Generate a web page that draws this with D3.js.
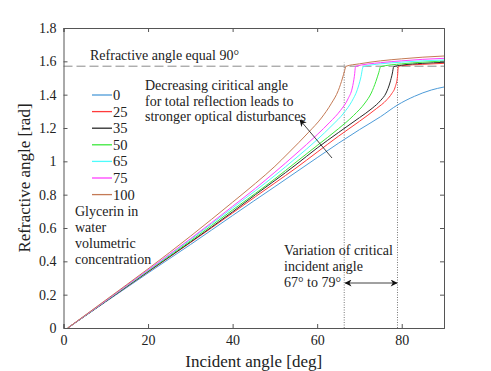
<!doctype html>
<html lang="en">
  <head>
    <meta charset="utf-8">
    <title>Refractive angle vs incident angle</title>
    <script src="https://d3js.org/d3.v7.min.js"></script>
    <style>
      body { margin: 0; background: #fff; }
      svg text { font-family: 'Liberation Serif', 'Times New Roman', Times, 'DejaVu Serif', serif; fill: #222; }
    </style>
  </head>
  <body>
    <div class="visual"></div>
  <script>
    // glycerin concentration (legend) and curve colours
    const concentrations = ['0', '25', '35', '50', '65', '75', '100'];
    const colors = ['#4d9bd8', '#ff3b3b', '#2a2a2a', '#3de83d', '#4dfcfc', '#ff40ff', '#c47a55'];

    // [incident angle (deg), refractive angle (rad)]
    const c0 = [[1,0],[10,0.157],[20,0.33],[30,0.5],[40,0.675],[45,0.762],[50,0.848],[55,0.935],[60,1.022],
      [65,1.108],[70,1.19],[75,1.268],[79,1.338],[83,1.39],[87,1.428],[90,1.446]];
    const c25 = [[1,0],[10,0.16],[20,0.337],[30,0.512],[40,0.69],[45.4,0.788],[50,0.87],[55,0.96],[60,1.055],
      [65,1.15],[70,1.24],[72,1.277],[74,1.316],[76.5,1.37],[77.6,1.405],[78.5,1.45],[79,1.51],[79.2,1.568],
      [80,1.574],[85,1.582],[90,1.588]];
    const c35 = [[1,0],[10,0.16],[20,0.338],[30,0.515],[40,0.697],[45.4,0.8],[50,0.885],[55,0.98],[60,1.08],
      [65,1.172],[70,1.262],[73,1.318],[75,1.365],[76.3,1.41],[77.2,1.47],[77.8,1.53],[78.1,1.568],
      [80,1.577],[85,1.588],[90,1.594]];
    const c50 = [[1,0],[10,0.162],[20,0.342],[30,0.522],[40,0.708],[45.4,0.808],[50,0.895],[55,0.995],[60,1.095],
      [65,1.195],[68.6,1.275],[71.3,1.35],[72.8,1.41],[73.9,1.48],[74.6,1.535],[75,1.568],
      [80,1.585],[85,1.595],[90,1.602]];
    const c65 = [[1,0],[10,0.163],[20,0.345],[30,0.53],[40,0.72],[45.4,0.824],[50,0.915],[55,1.02],[60,1.13],
      [63.5,1.215],[66.3,1.29],[68.2,1.36],[69.5,1.43],[70.3,1.5],[70.9,1.568],
      [75,1.585],[80,1.595],[85,1.603],[90,1.608]];
    const c75 = [[1,0],[10,0.164],[20,0.348],[30,0.535],[40,0.73],[45.4,0.838],[50,0.935],[55,1.045],[60,1.16],
      [63,1.235],[65.5,1.305],[67.3,1.375],[68.3,1.44],[68.8,1.51],[69.1,1.57],
      [75,1.592],[80,1.603],[85,1.612],[90,1.618]];
    const c100 = [[1,0],[10,0.168],[20,0.355],[30,0.55],[40,0.755],[45.4,0.868],[50,0.97],[53.2,1.05],[58,1.175],
      [61,1.26],[63.3,1.345],[65,1.425],[66,1.5],[66.5,1.545],[66.8,1.57],
      [70,1.585],[75,1.603],[80,1.615],[85,1.625],[90,1.632]];
    const curves = [c0, c25, c35, c50, c65, c75, c100];

    const xTicks = [0, 20, 40, 60, 80];
    const yTicks = [0, 0.2, 0.4, 0.6, 0.8, 1, 1.2, 1.4, 1.6, 1.8];
    const criticalAngles = [66.4, 79];
    const rightAngle = Math.PI / 2;

    const w = 491, h = 371;
    const margin = { top: 28, right: 47, bottom: 43, left: 63.5 };
    const serif = "'Liberation Serif', 'Times New Roman', Times, 'DejaVu Serif', serif";

    const svg = d3.select('.visual')
      .append('svg')
      .attr('width', w)
      .attr('height', h)
      .attr('font-family', serif);

    const x = d3.scaleLinear().domain([0, 90]).range([margin.left, w - margin.right]);
    const y = d3.scaleLinear().domain([0, 1.8]).range([h - margin.bottom, margin.top]);

    // dashed line for 90 deg
    svg.append('line')
      .attr('x1', x(0)).attr('x2', x(90))
      .attr('y1', y(rightAngle)).attr('y2', y(rightAngle))
      .attr('stroke', '#8a8a8a')
      .attr('stroke-width', 1)
      .attr('stroke-dasharray', '9,4');

    // dotted verticals at the critical angles
    svg.selectAll('.crit')
      .data(criticalAngles)
      .enter().append('line')
      .attr('class', 'crit')
      .attr('x1', d => x(d)).attr('x2', d => x(d))
      .attr('y1', y(0)).attr('y2', y(1.592))
      .attr('stroke', '#555')
      .attr('stroke-width', 0.8)
      .attr('stroke-dasharray', '1,1.5');

    const line = d3.line()
      .x(d => x(d[0]))
      .y(d => y(d[1]))
      .curve(d3.curveMonotoneX);

    svg.selectAll('.curve')
      .data(curves)
      .enter().append('path')
      .attr('class', 'curve')
      .attr('d', line)
      .attr('fill', 'none')
      .attr('stroke', (d, i) => colors[i])
      .attr('stroke-width', 1);

    // axes (ticks pointing inward, box all around)
    const axisColor = '#555';
    const gx = svg.append('g')
      .attr('transform', 'translate(0,' + y(0) + ')')
      .call(d3.axisBottom(x).tickValues(xTicks).tickSize(-4).tickPadding(7));
    const gxTop = svg.append('g')
      .attr('transform', 'translate(0,' + y(1.8) + ')')
      .call(d3.axisTop(x).tickValues(xTicks).tickSize(-4).tickFormat(''));
    const gy = svg.append('g')
      .attr('transform', 'translate(' + x(0) + ',0)')
      .call(d3.axisLeft(y).tickValues(yTicks).tickSize(-4).tickPadding(7).tickFormat(d3.format('')));
    const gyRight = svg.append('g')
      .attr('transform', 'translate(' + x(90) + ',0)')
      .call(d3.axisRight(y).tickValues(yTicks).tickSize(-4).tickFormat(''));

    [gx, gxTop, gy, gyRight].forEach(g => {
      g.attr('font-family', serif);
      g.select('.domain').attr('stroke', axisColor);
      g.selectAll('.tick line').attr('stroke', axisColor);
      g.selectAll('.tick text')
        .attr('font-size', '14px')
        .attr('fill', '#222');
    });

    // axis titles
    svg.append('text')
      .attr('x', (x(0) + x(90)) / 2)
      .attr('y', 367)
      .attr('text-anchor', 'middle')
      .attr('font-size', '17px')
      .text('Incident angle [deg]');
    svg.append('text')
      .attr('transform', 'translate(30,' + y(0.9) + ') rotate(-90)')
      .attr('text-anchor', 'middle')
      .attr('font-size', '17px')
      .text('Refractive angle [rad]');

    svg.append('text')
      .attr('x', 90)
      .attr('y', 60)
      .attr('font-size', '14px')
      .text('Refractive angle equal 90°');

    // legend
    const legend = svg.append('g').attr('class', 'legend');
    const rows = legend.selectAll('g')
      .data(concentrations)
      .enter().append('g')
      .attr('transform', (d, i) => 'translate(92,' + (95 + i * 16.6) + ')');
    rows.append('line')
      .attr('x1', 0).attr('x2', 20)
      .attr('stroke', (d, i) => colors[i])
      .attr('stroke-width', 1.3);
    rows.append('text')
      .attr('x', 21)
      .attr('y', 5)
      .attr('font-size', '14.5px')
      .text(d => d);

    const addLines = (lines, x0, y0, dy) => {
      const t = svg.append('text').attr('font-size', '14px');
      lines.forEach((s, i) => {
        t.append('tspan').attr('x', x0).attr('y', y0 + i * dy).text(s);
      });
    };
    addLines(['Glycerin in', 'water', 'volumetric', 'concentration'], 75, 216, 16);
    addLines(['Decreasing ciritical angle', 'for total reflection leads to', 'stronger optical disturbances'], 145, 90, 15.6);
    addLines(['Variation of critical', 'incident angle', '67° to 79°'], 284, 255, 16);

    // arrows
    const defs = svg.append('defs');
    defs.append('marker')
      .attr('id', 'head')
      .attr('viewBox', '0 0 10 10')
      .attr('refX', 9).attr('refY', 5)
      .attr('markerWidth', 9).attr('markerHeight', 7)
      .attr('markerUnits', 'userSpaceOnUse')
      .attr('orient', 'auto-start-reverse')
      .append('path')
      .attr('d', 'M0,0 L10,5 L0,10 L3,5 Z')
      .attr('fill', '#111');

    svg.append('line')
      .attr('x1', 332).attr('y1', 158)
      .attr('x2', 300).attr('y2', 120)
      .attr('stroke', '#111')
      .attr('stroke-width', 0.8)
      .attr('marker-end', 'url(#head)');

    svg.append('line')
      .attr('x1', x(criticalAngles[0]) + 1).attr('y1', 283)
      .attr('x2', x(criticalAngles[1]) - 0.5).attr('y2', 283)
      .attr('stroke', '#111')
      .attr('stroke-width', 0.8)
      .attr('marker-start', 'url(#head)')
      .attr('marker-end', 'url(#head)');
  </script>
  </body>
</html>
